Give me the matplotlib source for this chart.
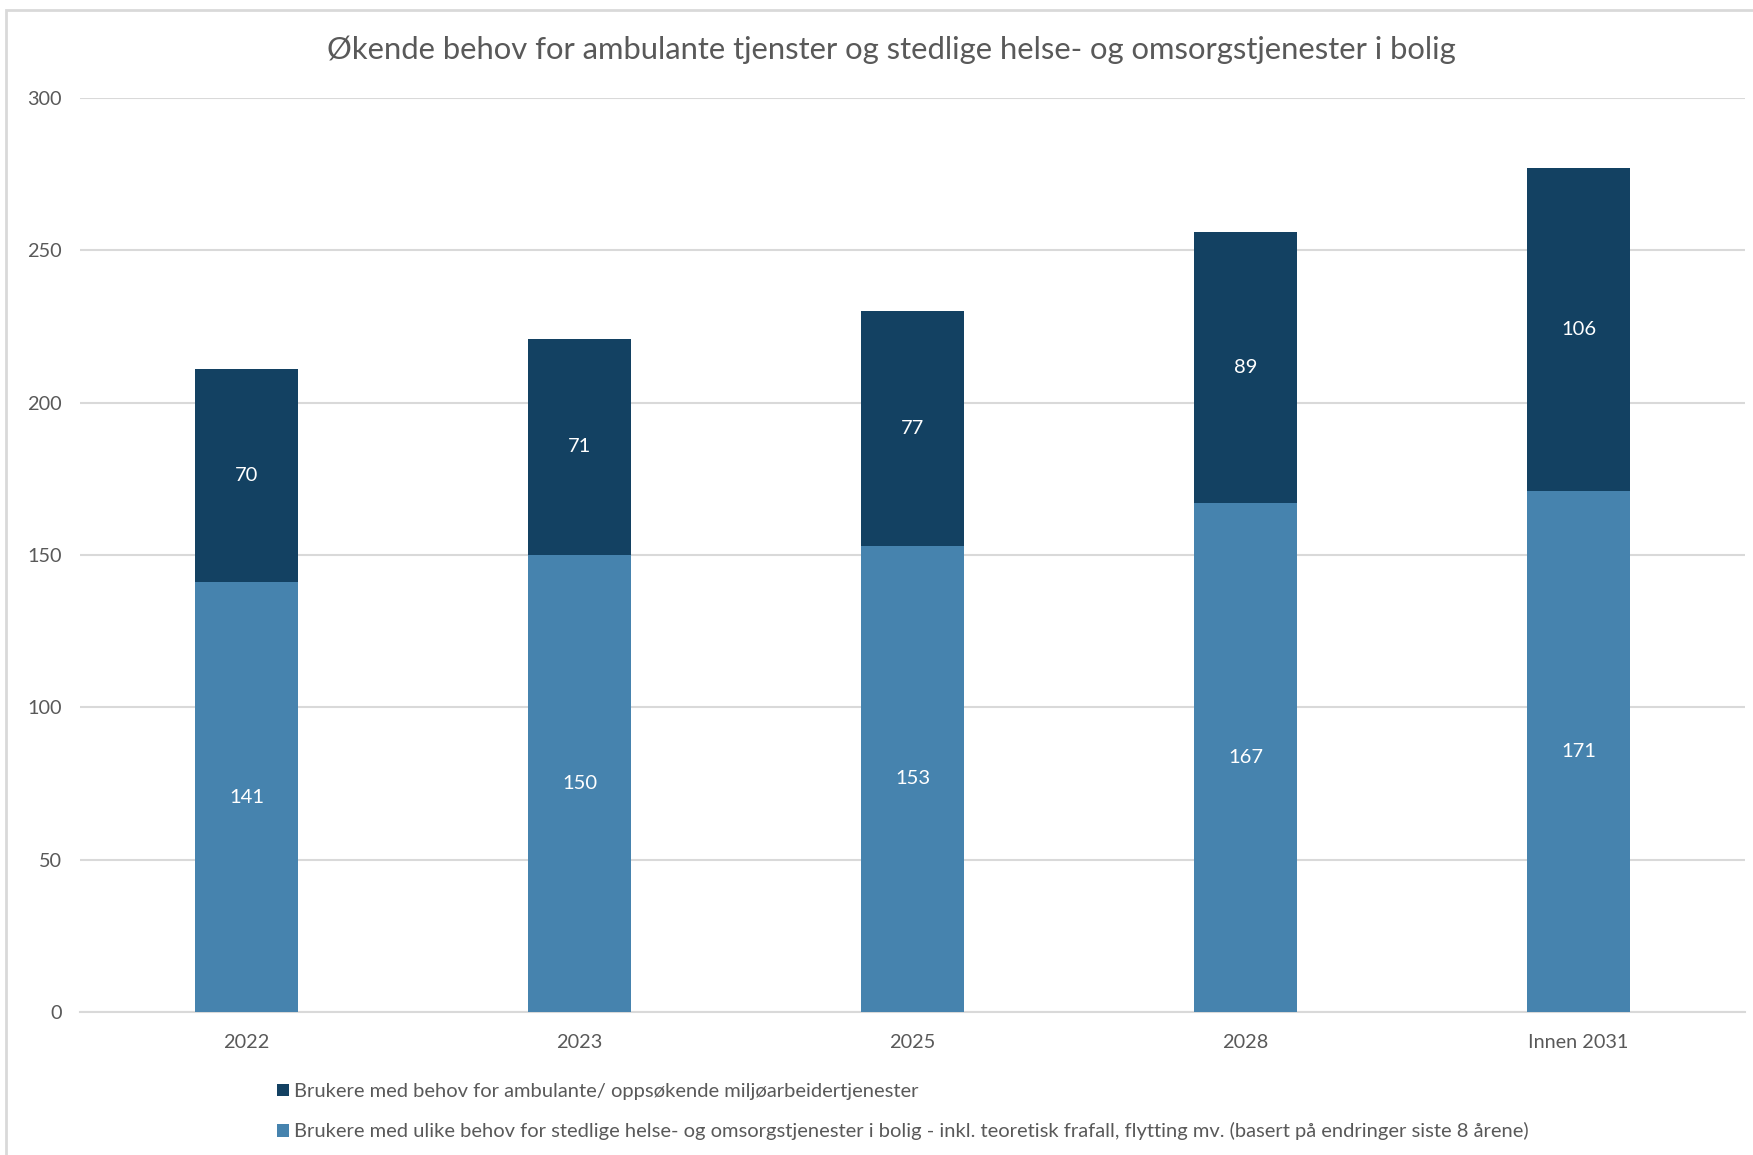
from matplotlib import pyplot as plt
from matplotlib.patches import Rectangle
import numpy

plt.rcParams['font.family'] = ['Lato', 'DejaVu Sans']

# data
kategorier = ['2022', '2023', '2025', '2028', 'Innen 2031']
stedlige = [141, 150, 153, 167, 171]
ambulante = [70, 71, 77, 89, 106]
navn_ambulante = 'Brukere med behov for ambulante/ oppsøkende miljøarbeidertjenester'
navn_stedlige = ('Brukere med ulike behov for stedlige helse- og omsorgstjenester i bolig'
                 ' - inkl. teoretisk frafall, flytting mv. (basert på endringer siste 8 årene)')
tittel = 'Økende behov for ambulante tjenster og stedlige helse- og omsorgstjenester i bolig'

lys = '#4683AE'
mork = '#134162'
gra_tekst = '#595959'

W, H = 1753, 1155
fig = plt.figure(figsize=(W/100, H/100), dpi=100)

# chart frame (cut off at right/bottom like the screenshot)
fig.patches.append(Rectangle((6/W, -0.1), 1.2, 1 - 10/H + 0.1, transform=fig.transFigure,
                             fill=False, edgecolor='#D9D9D9', linewidth=2))

ax = fig.add_axes([80/W, 1 - 1012/H, (1745-80)/W, (1012-98)/H])

x = numpy.arange(len(kategorier))
b1 = ax.bar(x, stedlige, width=0.31, color=lys, label=navn_stedlige, zorder=3)
b2 = ax.bar(x, ambulante, width=0.31, bottom=stedlige, color=mork, label=navn_ambulante, zorder=3)

for rect, v in zip(b1, stedlige):
    ax.text(rect.get_x() + rect.get_width()/2, rect.get_height()/2, str(v),
            ha='center', va='center', color='white', fontsize=14.5)
for rect, v, b in zip(b2, ambulante, stedlige):
    ax.text(rect.get_x() + rect.get_width()/2, b + v/2, str(v),
            ha='center', va='center', color='white', fontsize=14.5)

ax.set_xlim(-0.5, len(kategorier) - 0.5)
ax.set_ylim(0, 300)
ax.set_yticks(numpy.arange(0, 301, 50))
ax.set_xticks(x)
ax.set_xticklabels(kategorier)
ax.yaxis.grid(True, color='#D9D9D9', linewidth=1.5, zorder=0)
for s in ['top', 'right', 'left']:
    ax.spines[s].set_visible(False)
ax.spines['bottom'].set_color('#D9D9D9')
ax.spines['bottom'].set_linewidth(1.5)
ax.tick_params(axis='both', length=0, labelsize=14.3, colors=gra_tekst)
ax.tick_params(axis='y', pad=13)
ax.tick_params(axis='x', pad=15.5)

fig.text(891/W, 1 - 50/H, tittel, ha='center', va='center', fontsize=22.3, color=gra_tekst)

leg = fig.legend(handles=[b2, b1], loc='upper left', bbox_to_anchor=(259/W, 1 - 1065/H),
                 frameon=False, fontsize=14.5, handlelength=0.6, handleheight=0.6,
                 handletextpad=0.25, labelspacing=1.1, labelcolor=gra_tekst)

plt.savefig('out.png', dpi=100)
